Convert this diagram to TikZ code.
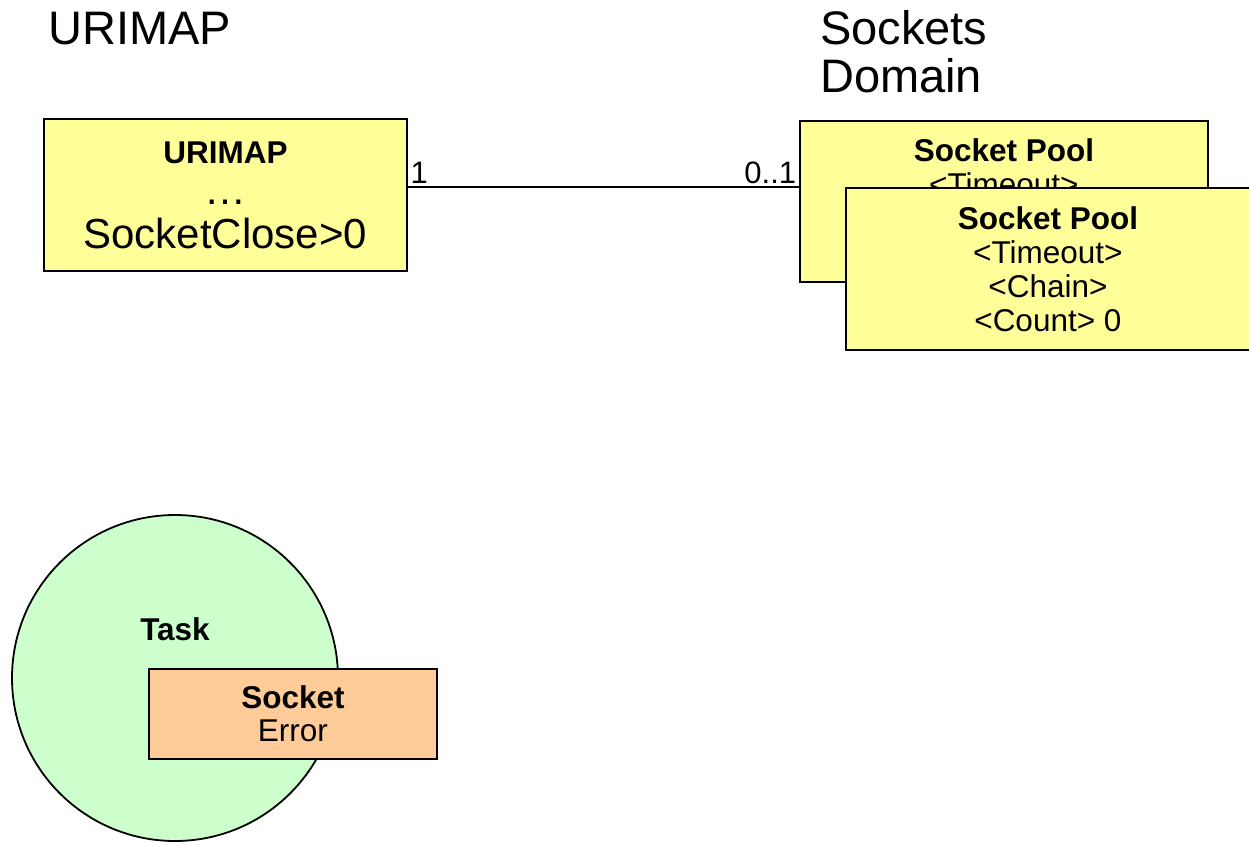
\documentclass[tikz,border=0pt]{standalone}
\usepackage{fontspec}
\setmainfont{Liberation Sans}
\definecolor{cyellow}{RGB}{255,255,153}
\definecolor{cgreen}{RGB}{204,255,204}
\definecolor{corange}{RGB}{255,204,153}
\newcommand{\bigattr}[1]{{\fontsize{42}{44}\selectfont #1}}
\tikzset{heading/.style={anchor=north west,inner sep=0pt,align=left,font=\fontsize{47}{48}\selectfont}}
\tikzset{classbox/.style={draw,line width=1.8pt,fill=cyellow,anchor=north west,inner sep=0pt,align=center,
           font=\fontsize{31.5}{34}\selectfont},
         assoc/.style={line width=1.8pt},
         multlbl/.style={inner sep=2pt,font=\fontsize{31}{34}\selectfont}}

\begin{document}
\begin{tikzpicture}[x=1pt,y=-1pt]
    \useasboundingbox (0,0) rectangle (1249,842);
    \node[heading] (urimaphead) at (48,12) {URIMAP};
    \node[heading] (sockhead) at (820,10) {Sockets\\Domain};
    \node[classbox,minimum width=363pt,minimum height=152pt] (urimap) at (43,118)
        {\textbf{URIMAP}\\[7pt] \bigattr{…}\\[10pt] \bigattr{SocketClose>0}};
    \node[classbox,minimum width=408pt,minimum height=161pt] (poolback) at (799,120)
        {\textbf{Socket Pool}\\<Timeout>\\<Chain>\\<Count> 0};
    \node[classbox,minimum width=404pt,minimum height=162pt] (poolfront) at (845,187)
        {\textbf{Socket Pool}\\<Timeout>\\<Chain>\\<Count> 0};
    \draw[assoc] ([yshift=8pt]urimap.east) -- ([yshift=8pt]urimap.east -| poolback.west)
        node[multlbl,pos=0,above right] (one) {1}
        node[multlbl,pos=1,above left] (zeroone) {0..1};
    % task with its socket
    \node[draw,line width=1.8pt,fill=cgreen,circle,minimum size=326pt] (task) at (175,678) {};
    \node[font=\bfseries\fontsize{31.5}{34}\selectfont] (tasklbl) at (175,629) {Task};
    \node[draw,line width=1.8pt,fill=corange,anchor=north west,inner sep=0pt,align=center,
          minimum width=288pt,minimum height=90pt,font=\fontsize{31.5}{33}\selectfont] (socket) at (148,668)
        {\textbf{Socket}\\Error};
\end{tikzpicture}
\end{document}
